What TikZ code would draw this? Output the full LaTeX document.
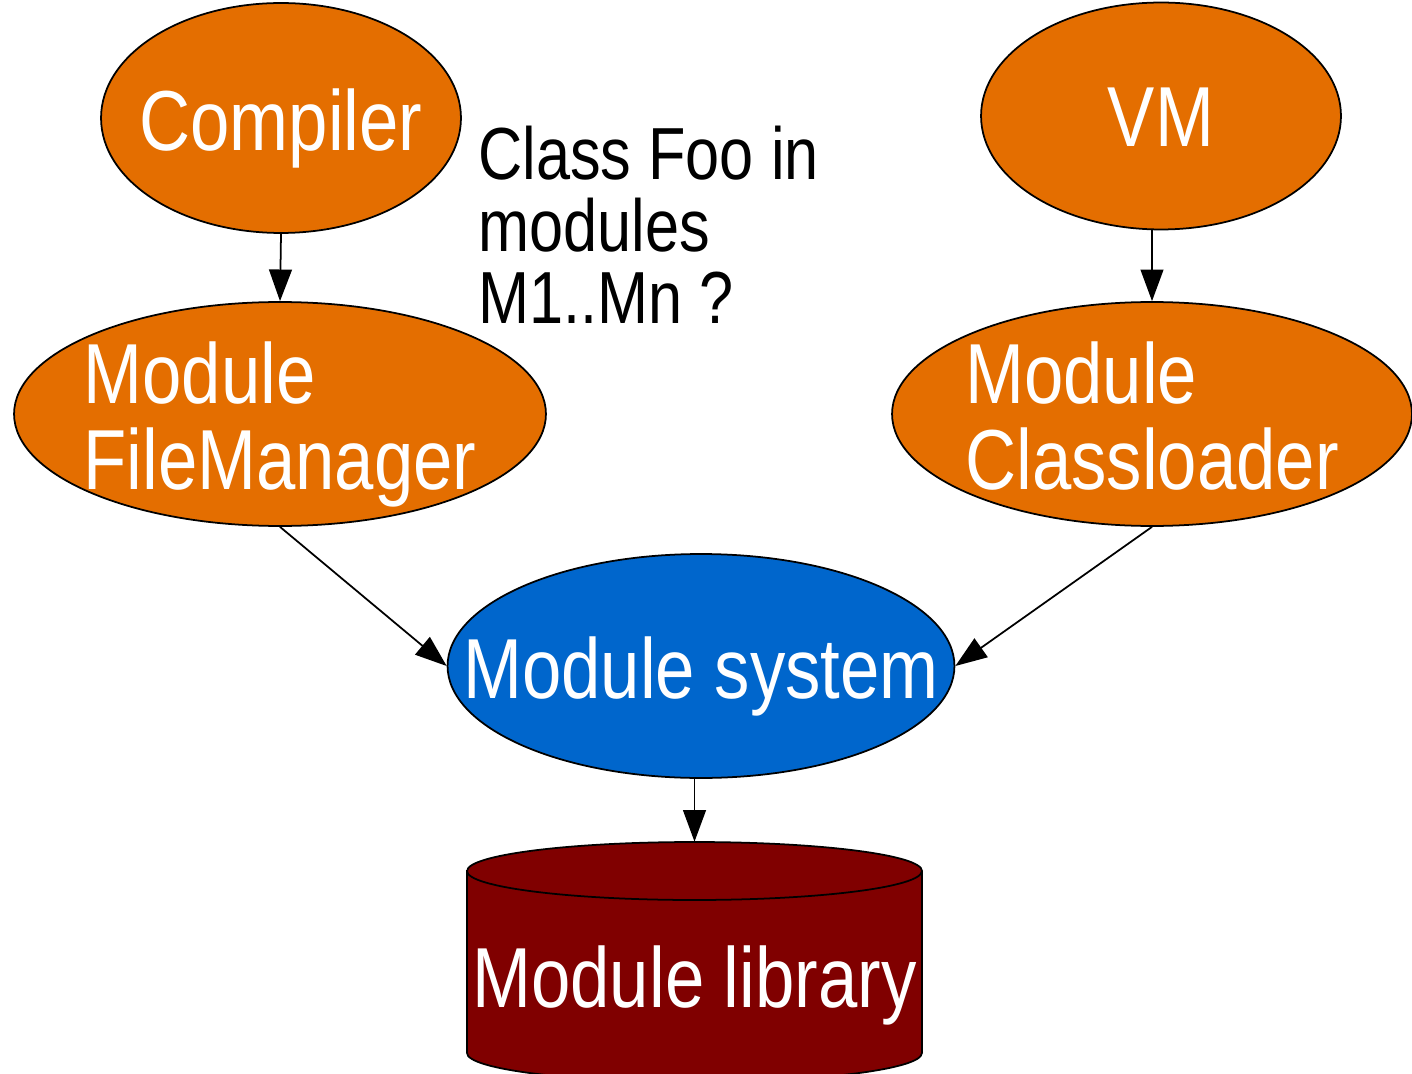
\documentclass[tikz,border=0pt]{standalone}
\usepackage{fontspec}
\setmainfont[FakeStretch=0.83]{Liberation Sans}
\usetikzlibrary{shapes.geometric,arrows.meta}
\definecolor{nodeorange}{HTML}{E46E00}
\definecolor{nodeblue}{HTML}{0066CC}
\definecolor{libred}{HTML}{800000}
% text that does not grow the shape
\newcommand{\inside}[2][-0.29em]{\smash{\makebox[0pt]{\raisebox{#1}{\begin{tabular}{@{}l@{}}#2\end{tabular}}}}}
\tikzset{
    blob/.style = {
        ellipse,
        draw,
        line width=1pt,
        inner sep=0pt,
        fill = nodeorange,
        text = white,
        font = \fontsize{48.5}{47}\selectfont,
        },
    system/.style = {
        blob,
        fill = nodeblue,
        },
    store/.style = {
        draw,
        line width=1pt,
        fill = libred,
        },
    store text/.style = {
        inner sep=0pt,
        text = white,
        font = \fontsize{48.5}{47}\selectfont,
        },
    note/.style = {
        align=left,
        inner sep=0pt,
        font = \fontsize{42}{41}\selectfont,
        },
    link/.style = {
        -{Triangle[length=18pt,width=13pt]},
        line width=1pt,
        },
}
\begin{document}
\begin{tikzpicture}[x=0.02cm, y=-0.02cm]
    \useasboundingbox (0,0) rectangle (1412,1074);

    \node[blob, minimum width=7.2cm, minimum height=4.6cm] (compiler) at (281,118) {\inside{Compiler}};
    \node[blob, minimum width=7.2cm, minimum height=4.54cm] (vm) at (1161,116) {\inside{VM}};
    \node[blob, minimum width=10.64cm, minimum height=4.48cm] (fm) at (280,414) {\inside{Module\\FileManager}};
    \node[blob, minimum width=10.4cm, minimum height=4.48cm] (cl) at (1152,414) {\inside{Module\\Classloader}};
    \node[system, minimum width=10.14cm, minimum height=4.48cm] (ms) at (701,666) {\inside{Module system}};

    % the library drum
    \path[store] (467,871) -- (467,1053)
        arc[start angle=180, end angle=360, x radius=4.55cm, y radius=0.58cm]
        -- (922,871)
        arc[start angle=0, end angle=180, x radius=4.55cm, y radius=0.58cm]
        -- cycle;
    \draw[line width=1pt] (467,871)
        arc[start angle=180, end angle=360, x radius=4.55cm, y radius=0.58cm];
    \node[store text, minimum width=9.1cm, minimum height=4.8cm] (lib) at (694.5,962) {\inside[-0.45em]{Module library}};

    \node[note, anchor=north west] (question) at (478,126) {Class Foo in\\modules\\M1..Mn ?};

    %\draw[link] (vm) -- (cl);
    \draw[link] (compiler.south) -- (fm.north);
    \draw[link] (vm.south -| cl.north) -- (cl.north);
    \draw[link] (fm.south) -- (ms.west);
    \draw[link] (cl.south) -- (ms.east);
    \draw[link] (ms.south -| lib.north) -- (lib.north);
\end{tikzpicture}
\end{document}
